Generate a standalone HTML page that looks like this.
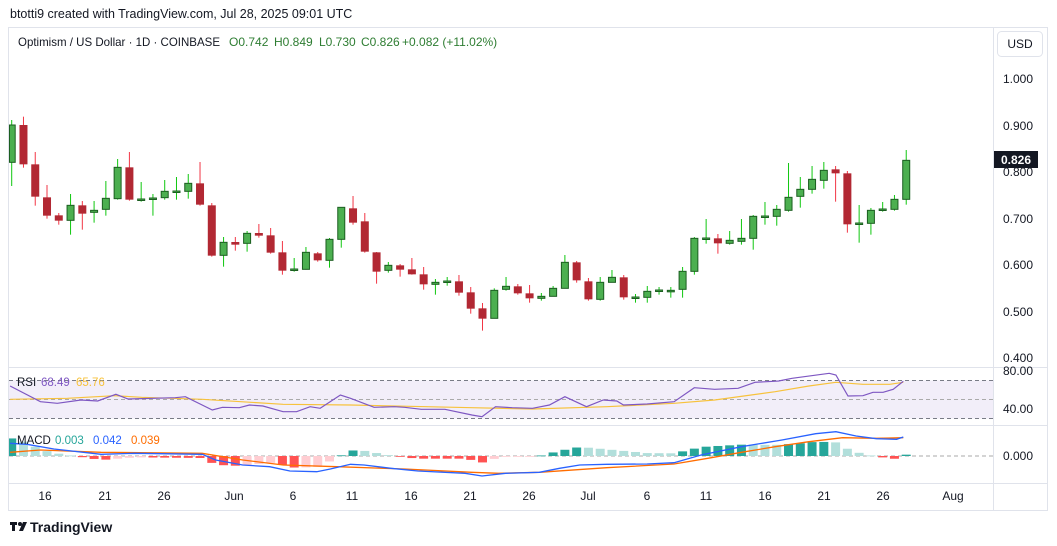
<!DOCTYPE html>
<html><head><meta charset="utf-8">
<style>
html,body{margin:0;padding:0;background:#fff;width:1057px;height:546px;overflow:hidden;font-family:"Liberation Sans",sans-serif;}
svg{position:absolute;left:0;top:0;}
</style></head><body>
<svg id="s" width="1057" height="546" xmlns="http://www.w3.org/2000/svg">
<rect x="0" y="0" width="1057" height="546" fill="#fff"/>
<text x="10" y="18" font-size="12.5" fill="#131722">btotti9 created with TradingView.com, Jul 28, 2025 09:01 UTC</text>
<rect x="8.5" y="27.5" width="1039" height="483" fill="none" stroke="#e0e3eb"/>
<line x1="993.5" y1="28" x2="993.5" y2="510" stroke="#e0e3eb"/>
<line x1="8" y1="367.5" x2="1047" y2="367.5" stroke="#e0e3eb"/>
<line x1="8" y1="425.5" x2="1047" y2="425.5" stroke="#e0e3eb"/>
<line x1="8" y1="483.5" x2="1047" y2="483.5" stroke="#e0e3eb"/>
<text x="18" y="46" font-size="12" fill="#131722" textLength="202" lengthAdjust="spacingAndGlyphs">Optimism / US Dollar · 1D · COINBASE</text>
<g font-size="12" fill="#2e7d32">
<text x="229" y="46">O0.742</text><text x="274" y="46">H0.849</text><text x="319" y="46">L0.730</text><text x="361" y="46">C0.826</text><text x="402" y="46">+0.082 (+11.02%)</text>
</g>
<rect x="997.5" y="31.5" width="45" height="25" rx="4" fill="#fff" stroke="#e0e3eb"/>
<text x="1020" y="48" font-size="12" fill="#131722" text-anchor="middle">USD</text>
<g font-size="12" fill="#131722" text-anchor="middle">
<text x="1018" y="83">1.000</text><text x="1018" y="130">0.900</text><text x="1018" y="176">0.800</text>
<text x="1018" y="223">0.700</text><text x="1018" y="269">0.600</text><text x="1018" y="316">0.500</text>
<text x="1018" y="362">0.400</text>
<text x="1018" y="375">80.00</text><text x="1018" y="413">40.00</text><text x="1018" y="460">0.000</text>
</g>
<rect x="994" y="151" width="44" height="17" fill="#131722"/>
<text x="1016" y="164" font-size="12" font-weight="bold" fill="#fff" text-anchor="middle">0.826</text>
<g font-size="12" fill="#131722" text-anchor="middle">
<text x="45" y="500">16</text><text x="105" y="500">21</text><text x="164" y="500">26</text><text x="234" y="500">Jun</text>
<text x="293" y="500">6</text><text x="352" y="500">11</text><text x="411" y="500">16</text><text x="470" y="500">21</text>
<text x="529" y="500">26</text><text x="588" y="500">Jul</text><text x="647" y="500">6</text><text x="706" y="500">11</text>
<text x="765" y="500">16</text><text x="824" y="500">21</text><text x="883" y="500">26</text><text x="953" y="500">Aug</text>
</g>
<rect x="9" y="380.5" width="984" height="38" fill="#7e57c2" fill-opacity="0.1"/>
<line x1="9" y1="380.5" x2="993" y2="380.5" stroke="#787b86" stroke-dasharray="4,3"/>
<line x1="9" y1="399.5" x2="993" y2="399.5" stroke="#aaa" stroke-dasharray="4,3"/>
<line x1="9" y1="418.5" x2="993" y2="418.5" stroke="#787b86" stroke-dasharray="4,3"/>
<line x1="9" y1="456" x2="993" y2="456" stroke="#aaa" stroke-dasharray="4,3"/>
<g id="dyn"></g>
<text x="17" y="386" font-size="11.5" fill="#131722">RSI</text>
<text x="41" y="386" font-size="11.5" fill="#7e57c2">68.49</text>
<text x="76" y="386" font-size="11.5" fill="#f7c23c">65.76</text>
<text x="17" y="444" font-size="11.5" fill="#131722">MACD</text>
<text x="55" y="444" font-size="11.5" fill="#26a69a">0.003</text>
<text x="93" y="444" font-size="11.5" fill="#2962ff">0.042</text>
<text x="131" y="444" font-size="11.5" fill="#ff6d00">0.039</text>
<g transform="translate(10,520)"><rect x="0" y="2" width="7" height="3" fill="#131722"/><rect x="2" y="2" width="3" height="9" fill="#131722"/><circle cx="10" cy="4" r="2" fill="#131722"/><path d="M13 2 L17 2 L13 11 L9 11Z" fill="#131722"/></g>
<text x="30" y="532" font-size="14" font-weight="bold" fill="#131722">TradingView</text>
</svg>
<script>
var C=[
[0,'g',30,45,157,228],[1,'r',20,45,163,173],[2,'r',126,163,260,287],[3,'r',225,262,317,326],[4,'r',309,316,332,344],
[5,'g',252,286,331,374],[6,'r',273,286,311,359],[7,'g',273,301,307,338],[8,'g',213,265,298,317],[9,'g',147,172,266,269],
[10,'r',126,172,269,272],[11,'g',216,267,269,275],[12,'g',252,264,266,317],[13,'g',210,244,263,269],[14,'g',201,243,245,269],
[15,'g',192,220,244,266],[16,'r',156,220,284,287],[17,'r',279,286,437,440],[18,'g',381,397,436,470],[19,'r',381,396,404,422],
[20,'g',363,370,400,425],[21,'r',342,369,377,383],[22,'r',354,376,428,431],[23,'r',393,427,482,494],[24,'g',444,477,479,485],
[25,'g',411,427,478,479],[26,'r',426,430,451,455],[27,'g',384,388,451,473],[28,'g',292,292,388,413],[29,'r',258,295,338,344],
[30,'r',309,334,425,428],[31,'r',426,427,485,521],[32,'g',456,466,481,488],[33,'r',462,466,479,500],[34,'r',444,478,493,494],
[35,'r',471,493,523,539],[36,'g',507,517,523,554],[37,'g',501,513,515,527],[38,'r',495,514,548,557],[39,'r',531,547,596,611],
[40,'r',579,595,626,662]];
var D=[[41,'g',445,451,535,535],[42,'g',411,439,448,452],[43,'r',432,439,460,464],[44,'r',435,460,475,488],[45,'g',459,469,475,482],
[46,'g',438,445,469,469],[47,'g',345,367,445,445],[48,'r',363,367,421,428],[49,'r',414,424,478,482],[50,'g',411,427,478,482],
[51,'g',390,412,427,427],[52,'r',405,412,472,479],[53,'g',462,471,473,488],[54,'g',438,454,472,488],[55,'g',441,450,452,464],
[56,'g',441,451,455,473],[57,'g',381,394,448,473],[58,'g',291,295,394,404],[59,'g',237,294,296,311],[60,'r',282,295,310,341],
[61,'g',273,301,310,314],[62,'g',237,295,304,314],[63,'g',225,229,295,329],[64,'g',186,228,230,254],[65,'g',195,208,229,257],
[66,'g',69,172,211,215],[67,'g',111,148,169,203],[68,'g',78,118,148,161],[69,'g',66,91,121,146],[70,'r',78,88,100,185],
[71,'r',93,100,253,278],[72,'g',195,249,251,308],[73,'g',204,211,250,284],[74,'g',186,207,209,215],[75,'g',165,178,208,212],
[76,'g',30,61,178,194]];
var h='';
function X(i){return 11.7+i*11.77;}
function add(a,off){
 var x=X(a[0]),wt=off+a[2]/3,bt=off+a[3]/3,bb=off+a[4]/3,wb=off+a[5]/3;
 var g=a[1]=='g';
 var wc=g?'#0fc70f':'#f23645';
 var x0=Math.max(x-4,9);
 h+='<line x1="'+x+'" y1="'+wt+'" x2="'+x+'" y2="'+wb+'" stroke="'+wc+'" stroke-width="1"/>';
 var hh=Math.max(bb-bt,1.5);
 if(g) h+='<rect x="'+(x0+0.5)+'" y="'+bt+'" width="'+(x+4-x0-1)+'" height="'+hh+'" fill="#4caf50" stroke="#1b5e20" stroke-width="1"/>';
 else h+='<rect x="'+x0+'" y="'+bt+'" width="'+(x+4-x0)+'" height="'+hh+'" fill="#b22833"/>';
}
C.forEach(function(a){add(a,110)});D.forEach(function(a){add(a,140)});
var SX=1057/1568;
function P(arr){return arr.map(function(p){return Math.max(9,p[0]*SX).toFixed(1)+','+(365+p[1]/3).toFixed(1)}).join(' ');}
var rsi=[[15,63],[60,110],[85,115],[120,105],[145,108],[172,88],[190,102],[260,98],[275,95],[315,135],[330,127],[355,128],[370,120],[390,123],[420,140],[440,140],[460,125],[475,130],[505,90],[520,100],[555,127],[585,125],[600,127],[625,133],[660,133],[700,150],[715,155],[735,125],[760,128],[790,130],[815,120],[838,95],[870,125],[895,105],[915,108],[925,120],[960,117],[1000,110],[1030,68],[1060,73],[1095,70],[1120,52],[1155,48],[1175,40],[1230,25],[1240,30],[1258,93],[1280,92],[1295,82],[1310,82],[1325,73],[1340,49]];
var ma=[[15,103],[100,100],[170,92],[210,97],[300,103],[420,118],[520,120],[700,128],[790,132],[900,125],[1000,115],[1060,105],[1150,80],[1200,63],[1240,52],[1280,58],[1320,58],[1340,52]];
var bl=[[15,235],[40,238],[80,252],[150,268],[200,265],[300,268],[320,285],[360,300],[400,305],[430,318],[470,320],[490,312],[520,298],[540,300],[580,310],[620,318],[690,325],[715,333],[750,325],[800,322],[830,310],[860,300],[900,298],[960,297],[1000,293],[1040,270],[1100,245],[1160,225],[1210,206],[1240,200],[1270,213],[1300,221],[1330,223],[1340,216]];
var or=[[15,262],[60,255],[150,262],[300,265],[360,285],[420,300],[500,305],[600,312],[700,322],[740,325],[800,322],[900,308],[1000,297],[1050,280],[1100,262],[1150,245],[1200,230],[1250,218],[1300,220],[1340,218]];
function itp(arr,zx){for(var i=0;i<arr.length-1;i++){if(zx>=arr[i][0]&&zx<=arr[i+1][0]){var t=(zx-arr[i][0])/(arr[i+1][0]-arr[i][0]);return arr[i][1]+t*(arr[i+1][1]-arr[i][1]);}}return zx<arr[0][0]?arr[0][1]:arr[arr.length-1][1];}
var prev=0;
for(var i=0;i<77;i++){var x=X(i),zx=x/SX;var v=2*(itp(or,zx)-itp(bl,zx))/3;var col;
 if(v>=0)col=v>=prev?'#26a69a':'#b2dfdb';else col=v<=prev?'#ff5252':'#ffcdd2';
 prev=v;var y0=456,y1=456-v;var bx=Math.max(x-4.5,9);h+='<rect x="'+bx+'" y="'+Math.min(y0,y1)+'" width="'+(x+4.5-bx)+'" height="'+Math.max(Math.abs(v),0.8)+'" fill="'+col+'"/>';}
h+='<polyline points="'+P(ma)+'" fill="none" stroke="#f7c23c" stroke-width="1.2"/>';
h+='<polyline points="'+P(rsi)+'" fill="none" stroke="#7e57c2" stroke-width="1.2"/>';
h+='<polyline points="'+P(or)+'" fill="none" stroke="#ff6d00" stroke-width="1.3"/>';
h+='<polyline points="'+P(bl)+'" fill="none" stroke="#2962ff" stroke-width="1.3"/>';
document.getElementById('dyn').innerHTML=h;
</script>
</body></html>
